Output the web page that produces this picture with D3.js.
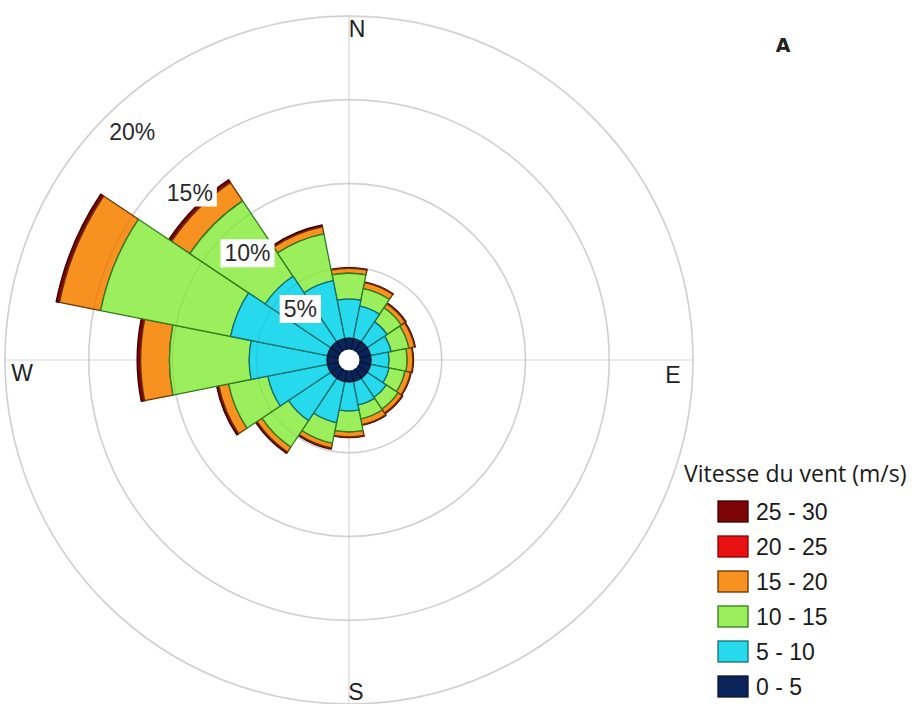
<!DOCTYPE html>
<html>
<head>
<meta charset="utf-8">
<script src="https://cdn.jsdelivr.net/npm/d3@7"></script>
<style>
  html, body { margin: 0; padding: 0; background: #ffffff; }
  svg { display: block; }
</style>
</head>
<body>
<svg id="chart" width="915" height="704"></svg>
<script>
// ---------------- DATA ----------------
const directions = ["N","NNE","NE","ENE","E","ESE","SE","SSE","S","SSW","SW","WSW","W","WNW","NW","NNW"];
const speedBins = ["0 - 5","5 - 10","10 - 15","15 - 20","20 - 25","25 - 30"];
// frequency (%) per direction, one array per speed bin
const s0_5   = [0.77,0.77,0.77,0.77,0.77,0.77,0.77,0.77,0.77,0.77,0.77,0.77,0.77,0.77,0.77,0.77];
const s5_10  = [2.33,1.97,1.43,1.25,1.08,1.13,1.37,1.43,1.73,2.50,3.04,3.63,4.65,5.90,4.71,3.52];
const s10_15 = [1.54,1.07,1.01,1.08,1.07,0.96,0.84,0.84,1.25,1.25,1.90,2.39,4.76,7.91,5.41,2.85];
const s15_20 = [0.30,0.36,0.30,0.35,0.35,0.35,0.29,0.35,0.30,0.30,0.36,0.59,1.72,2.50,1.31,0.42];
const s20_25 = [0.01,0.01,0.01,0.01,0.01,0.01,0.01,0.01,0.01,0.01,0.02,0.02,0.03,0.03,0.03,0.02];
const s25_30 = [0.03,0.03,0.05,0.04,0.03,0.03,0.05,0.04,0.03,0.06,0.08,0.12,0.18,0.18,0.18,0.10];
const ringTicks = [5, 10, 15, 20];
const ringLabels = ["5%", "10%", "15%", "20%"];
const cardinals = ["N", "E", "S", "W"];
const legendTitle = "Vitesse du vent (m/s)";
const panelTag = "A";

// ---------------- STYLE ----------------
const fills   = ["#0b2459", "#26d9ec", "#9cef5c", "#f7911f", "#e81212", "#7d0505"];
const strokes = ["#071637", "#146f6c", "#2f7d1c", "#6b3200", "#8a0000", "#3d0000"];

const seriesArrays = [s0_5, s5_10, s10_15, s15_20, s20_25, s25_30];
const table = directions.map((d, i) => {
  const row = { dir: d, idx: i };
  speedBins.forEach((k, j) => row[k] = seriesArrays[j][i]);
  return row;
});

const svg = d3.select("#chart");
const cx = 349, cy = 360;
const r = d3.scaleLinear().domain([0, 20]).range([9, 344]);
const angle = d3.scaleBand().domain(directions).range([-Math.PI / 16, 2 * Math.PI - Math.PI / 16]).paddingInner(0).paddingOuter(0);

const g = svg.append("g").attr("transform", `translate(${cx},${cy})`);

// grid rings
g.append("g").selectAll("circle").data(ringTicks).join("circle")
  .attr("r", d => r(d)).attr("fill", "none")
  .attr("stroke", "#e0e0e0").attr("stroke-width", 1.8);
// crosshair
const R = r(20);
g.append("line").attr("x1", 0).attr("x2", 0).attr("y1", -R).attr("y2", R).attr("stroke", "#d6d6d6").attr("stroke-width", 1.2);
g.append("line").attr("x1", -R).attr("x2", R).attr("y1", 0).attr("y2", 0).attr("stroke", "#d6d6d6").attr("stroke-width", 1.2);

// stacked bars
const stack = d3.stack().keys(speedBins)(table);
const arc = d3.arc()
  .innerRadius(d => r(d[0]))
  .outerRadius(d => r(d[1]))
  .startAngle(d => angle(d.data.dir))
  .endAngle(d => angle(d.data.dir) + angle.bandwidth());

stack.slice().reverse().forEach(layer => {
  const j = speedBins.indexOf(layer.key);
  g.append("g").selectAll("path").data(layer).join("path")
    .attr("d", arc)
    .attr("fill", fills[j])
    .attr("stroke", strokes[j])
    .attr("stroke-width", 1.3)
    .attr("stroke-linejoin", "round");
});

// faint rings over bars
g.append("g").selectAll("circle").data(ringTicks).join("circle")
  .attr("r", d => r(d)).attr("fill", "none")
  .attr("stroke", "rgba(0,0,0,0.08)").attr("stroke-width", 1.2);

// hole
g.append("circle").attr("r", 10.5).attr("fill", "#fff");

// ring labels with white boxes
ringTicks.forEach((t, i) => {
  const rr = r(t) - (t === 5 ? 22 : 29);
  const a = -Math.PI / 2 - 43.5 * Math.PI / 180;
  const x = rr * Math.cos(a);
  const y = rr * Math.sin(a);
  const lg = g.append("g").attr("transform", `translate(${x},${y})`);
  const txt = lg.append("text").text(ringLabels[i])
    .attr("text-anchor", "middle").attr("dy", "0.36em")
    .attr("font-family", "Liberation Sans, Arial, sans-serif")
    .attr("font-size", 23).attr("fill", "#2a2a2a");
  const bb = txt.node().getBBox();
  if (t < 20) {
    lg.insert("rect", "text")
      .attr("x", bb.x - 4).attr("y", bb.y - 1)
      .attr("width", bb.width + 8).attr("height", bb.height + 2)
      .attr("fill", "#fff");
  }
});

// cardinal labels
const cardPos = { N: [8, -R + 21, "middle"], S: [7, R - 4, "middle"], W: [-R + 17, 21, "middle"], E: [R - 20, 23, "middle"] };
cardinals.forEach(c => {
  const p = cardPos[c];
  g.append("text").text(c).attr("x", p[0]).attr("y", p[1]).attr("text-anchor", p[2])
    .attr("font-family", "Liberation Sans, Arial, sans-serif")
    .attr("font-size", 23).attr("fill", "#222");
});

// panel tag
svg.append("text").text(panelTag).attr("x", 783).attr("y", 52).attr("text-anchor", "middle")
  .attr("font-family", "DejaVu Sans, sans-serif").attr("font-weight", "bold")
  .attr("font-size", 19).attr("fill", "#222");

// legend
const lg = svg.append("g");
lg.append("text").text(legendTitle).attr("x", 684).attr("y", 482)
  .attr("font-family", "Open Sans, sans-serif").attr("font-size", 23).attr("fill", "#1a1a1a");
const legendOrder = speedBins.slice().reverse();
legendOrder.forEach((k, i) => {
  const j = speedBins.indexOf(k);
  const yc = 511 + i * 35;
  lg.append("rect").attr("x", 718).attr("y", yc - 10).attr("width", 30).attr("height", 21)
    .attr("fill", fills[j]).attr("stroke", strokes[j]).attr("stroke-width", 1.3);
  lg.append("text").text(k).attr("x", 756).attr("y", yc + 9)
    .attr("font-family", "Liberation Sans, Arial, sans-serif").attr("font-size", 23).attr("fill", "#1a1a1a");
});
</script>
</body>
</html>
